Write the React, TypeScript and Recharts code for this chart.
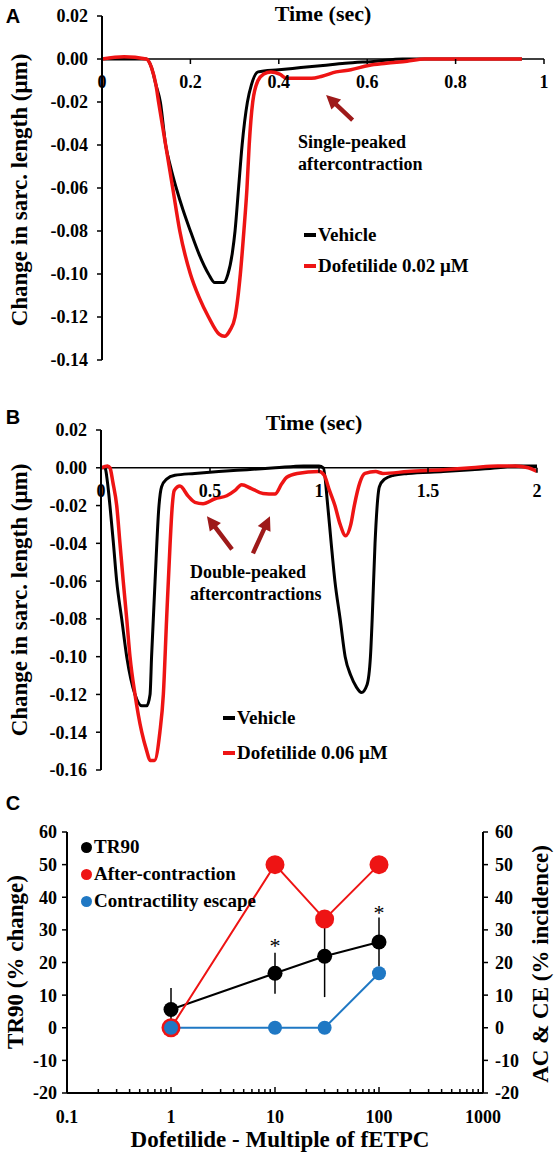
import React from 'react';
import {
  LineChart,
  Line,
  XAxis,
  YAxis,
  ReferenceLine,
  ReferenceDot,
  ErrorBar,
  Legend,
} from 'recharts';

const SERIF = "'Liberation Serif', 'Times New Roman', serif";
const SANS = "'Liberation Sans', Arial, sans-serif";
const RED = '#ee1414';
const ARROW_RED = '#9e1a1a';
const BLUE = '#1f78c4';

// ---- Panel A: single beat, 0.02 µM ----
const vehicleATime = [0, 0.05, 0.1, 0.112, 0.122, 0.132, 0.144, 0.155, 0.168, 0.183, 0.2, 0.22, 0.241, 0.255, 0.275, 0.285, 0.295, 0.301, 0.309, 0.317, 0.329, 0.338, 0.353, 0.4, 0.45, 0.5, 0.55, 0.62, 0.68, 0.95];
const vehicleAValue = [0, 0, 0, -0.004, -0.012, -0.02, -0.04, -0.05, -0.06, -0.07, -0.08, -0.091, -0.1, -0.104, -0.104, -0.1, -0.09, -0.08, -0.06, -0.04, -0.02, -0.012, -0.006, -0.005, -0.004, -0.003, -0.002, -0.001, 0, 0];
const dofATime = [0, 0.05, 0.1, 0.112, 0.122, 0.128, 0.144, 0.16, 0.176, 0.2, 0.22, 0.241, 0.265, 0.277, 0.29, 0.301, 0.313, 0.321, 0.328, 0.333, 0.341, 0.353, 0.366, 0.382, 0.402, 0.418, 0.474, 0.498, 0.53, 0.563, 0.603, 0.643, 0.69, 0.73, 0.8, 0.95];
const dofAValue = [0, 0.001, 0, -0.004, -0.012, -0.02, -0.04, -0.06, -0.08, -0.1, -0.111, -0.12, -0.128, -0.129, -0.126, -0.12, -0.1, -0.08, -0.06, -0.04, -0.02, -0.01, -0.007, -0.006, -0.007, -0.009, -0.009, -0.008, -0.006, -0.005, -0.003, -0.002, -0.001, 0, 0, 0];
const sarcTicksA = [0.02, 0, -0.02, -0.04, -0.06, -0.08, -0.1, -0.12, -0.14];
const timeTicksA = [0, 0.2, 0.4, 0.6, 0.8, 1];

// ---- Panel B: two beats, 0.06 µM ----
const vehicleBTime = [0, 0.018, 0.03, 0.041, 0.057, 0.072, 0.095, 0.118, 0.156, 0.187, 0.21, 0.225, 0.232, 0.248, 0.266, 0.278, 0.301, 0.339, 0.43, 0.54, 0.67, 0.8, 0.93, 1.0, 1.02, 1.04, 1.056, 1.073, 1.097, 1.12, 1.146, 1.171, 1.195, 1.22, 1.236, 1.244, 1.257, 1.277, 1.301, 1.342, 1.407, 1.57, 1.7, 1.82, 1.9, 2.0];
const vehicleBValue = [0, 0, -0.008, -0.02, -0.04, -0.06, -0.08, -0.1, -0.12, -0.126, -0.126, -0.12, -0.1, -0.06, -0.02, -0.01, -0.006, -0.004, -0.003, -0.002, -0.001, 0, 0.001, 0.001, 0, -0.02, -0.04, -0.06, -0.08, -0.1, -0.11, -0.116, -0.119, -0.115, -0.1, -0.08, -0.04, -0.01, -0.006, -0.004, -0.003, -0.002, -0.001, 0, 0.001, 0.001];
const dofBTime = [0, 0.03, 0.041, 0.055, 0.072, 0.087, 0.102, 0.118, 0.133, 0.156, 0.187, 0.21, 0.225, 0.245, 0.27, 0.286, 0.301, 0.317, 0.327, 0.336, 0.362, 0.4, 0.431, 0.468, 0.523, 0.577, 0.615, 0.645, 0.69, 0.743, 0.798, 0.829, 0.852, 0.9, 1.0, 1.024, 1.048, 1.073, 1.097, 1.122, 1.146, 1.162, 1.187, 1.211, 1.26, 1.293, 1.407, 1.57, 1.7, 1.82, 1.9, 1.96, 2.0];
const dofBValue = [0, 0.001, 0, -0.008, -0.02, -0.04, -0.06, -0.08, -0.1, -0.12, -0.14, -0.15, -0.155, -0.155, -0.14, -0.12, -0.08, -0.04, -0.02, -0.012, -0.0097, -0.015, -0.0183, -0.019, -0.0164, -0.0148, -0.012, -0.009, -0.011, -0.0136, -0.0139, -0.0085, -0.005, -0.003, -0.002, -0.004, -0.012, -0.02, -0.03, -0.036, -0.03, -0.02, -0.008, -0.003, -0.002, -0.003, -0.002, -0.001, 0, 0.001, 0.001, 0, -0.002];
const sarcTicksB = [0.02, 0, -0.02, -0.04, -0.06, -0.08, -0.1, -0.12, -0.14, -0.16];
const timeTicksB = [0, 0.5, 1, 1.5, 2];

// ---- Panel C: dose response ----
const doses = [1, 10, 30, 100];
const tr90 = [5.6, 16.7, 21.9, 26.3];
const tr90Err = [6.6, 6.3, 12.5, 7.5];
const afterContraction = [0, 50, 33.3, 50];
const contractilityEscape = [0, 0, 0, 16.7];
const starDose = [10, 100];
const starLevel = [26.2, 36.3];
const doseTicks = [0.1, 0.2, 0.3, 0.4, 0.5, 0.6, 0.7, 0.8, 0.9, 1, 2, 3, 4, 5, 6, 7, 8, 9, 10, 20, 30, 40, 50, 60, 70, 80, 90, 100, 200, 300, 400, 500, 600, 700, 800, 900, 1000];
const doseLabels = [0.1, 1, 10, 100, 1000];
const pctTicks = [-20, -10, 0, 10, 20, 30, 40, 50, 60];
const seriesOrderC = ['TR90', 'After-contraction', 'Contractility escape'];

// annotation arrows, [tail, tip] in data units
const arrowsA = [[[0.567, -0.0284], [0.507, -0.0167]]];
const arrowsB = [
  [[0.601, -0.0432], [0.486, -0.0256]],
  [[0.697, -0.0453], [0.775, -0.0256]],
];

const toPoints = (ts: number[], vs: number[]) => ts.map((t, i) => ({ t, v: vs[i] }));
const doseRows = doses.map((dose, i) => ({
  dose,
  tr90: tr90[i],
  tr90Err: tr90Err[i],
  ac: afterContraction[i],
  ce: contractilityEscape[i],
}));

const tickFont = { fontFamily: SERIF, fontWeight: 'bold' as const, fontSize: 18, fill: '#000' };

const inOrder = (payload: any[], order: string[]) =>
  [...(payload || [])].sort((a, b) => order.indexOf(a.value) - order.indexOf(b.value));

const xTickShape = (label: string) => (p: any) => (
  <g>
    <line x1={p.cx} y1={p.cy} x2={p.cx} y2={p.cy + 5} stroke="#000" strokeWidth={1.5} />
    <text x={p.cx} y={p.cy + 29} textAnchor="middle" {...tickFont}>
      {label}
    </text>
  </g>
);

const arrowShape = (p: any) => {
  const { x1, y1, x2, y2 } = p;
  const len = Math.hypot(x2 - x1, y2 - y1) || 1;
  const ux = (x2 - x1) / len;
  const uy = (y2 - y1) / len;
  const nx = -uy;
  const ny = ux;
  const bx = x2 - ux * 14;
  const by = y2 - uy * 14;
  const pts = [
    [x1 + nx * 2.2, y1 + ny * 2.2],
    [bx + nx * 2.2, by + ny * 2.2],
    [bx + nx * 7, by + ny * 7],
    [x2, y2],
    [bx - nx * 7, by - ny * 7],
    [bx - nx * 2.2, by - ny * 2.2],
    [x1 - nx * 2.2, y1 - ny * 2.2],
  ];
  return <polygon points={pts.map((q) => q.join(',')).join(' ')} fill={ARROW_RED} />;
};

const DoseTick = (p: any) => {
  const v = p.payload.value;
  const major = doseLabels.includes(v);
  return (
    <g>
      <line x1={p.x} y1={p.y} x2={p.x} y2={p.y - (major ? 6 : 4)} stroke="#000" strokeWidth={1.5} />
      {major && (
        <text x={p.x} y={p.y + 30} textAnchor="middle" {...tickFont}>
          {v}
        </text>
      )}
    </g>
  );
};

const starShape = (p: any) => (
  <text x={p.cx} y={p.cy + 11} textAnchor="middle" fontFamily={SERIF} fontSize={22} fill="#000">
    *
  </text>
);

const traceLegend = (rowH: number, order: string[]) => (props: any) => (
  <div style={{ fontFamily: SERIF, fontWeight: 'bold', fontSize: 19, color: '#000' }}>
    {inOrder(props.payload, order).map((e: any) => (
      <div key={e.value} style={{ display: 'flex', alignItems: 'center', height: rowH, whiteSpace: 'nowrap' }}>
        <span style={{ display: 'inline-block', width: 12, height: 4, background: e.color, marginRight: 2 }} />
        {e.value}
      </div>
    ))}
  </div>
);

const dotLegend = (props: any) => (
  <div style={{ fontFamily: SERIF, fontWeight: 'bold', fontSize: 19, color: '#000' }}>
    {inOrder(props.payload, seriesOrderC).map((e: any) => (
      <div key={e.value} style={{ display: 'flex', alignItems: 'center', height: 27, whiteSpace: 'nowrap' }}>
        <span style={{ display: 'inline-block', width: 11, height: 11, borderRadius: '50%', background: e.color, marginRight: 2 }} />
        {e.value}
      </div>
    ))}
  </div>
);

const Caption = ({ x, y, size = 18, rotate = false, family = SERIF, children }: any) => (
  <div
    style={{
      position: 'absolute',
      left: x,
      top: y,
      transform: `translate(-50%,-50%)${rotate ? ' rotate(-90deg)' : ''}`,
      fontFamily: family,
      fontWeight: 'bold',
      fontSize: size,
      lineHeight: 1.2,
      whiteSpace: 'nowrap',
      color: '#000',
    }}
  >
    {children}
  </div>
);

const TracePanel = ({ top, height, margin, yWidth, domainX, ticksY, ticksX, vehicle, dof, dofName, arrows, legendTop, legendLeft, rowH }: any) => (
  <div style={{ position: 'absolute', left: 0, top }}>
    <LineChart width={556} height={height} margin={margin}>
      <XAxis dataKey="t" type="number" domain={domainX} hide allowDataOverflow />
      <YAxis
        type="number"
        domain={[ticksY[ticksY.length - 1], ticksY[0]]}
        ticks={ticksY}
        interval={0}
        width={yWidth}
        tickFormatter={(v: number) => v.toFixed(2)}
        tick={tickFont}
        tickSize={5}
        tickMargin={9}
        axisLine={{ stroke: '#000', strokeWidth: 2 }}
        tickLine={{ stroke: '#000', strokeWidth: 1.5 }}
        allowDataOverflow
      />
      <ReferenceLine y={0} stroke="#000" strokeWidth={1.5} />
      {ticksX.map((t: number) => (
        <ReferenceDot key={t} x={t} y={0} r={3} shape={xTickShape(String(t))} />
      ))}
      <Legend
        layout="vertical"
        align="center"
        verticalAlign="middle"
        content={traceLegend(rowH, ['Vehicle', dofName])}
        wrapperStyle={{ left: legendLeft, top: legendTop, width: 260 }}
      />
      <Line data={vehicle} dataKey="v" name="Vehicle" type="monotone" stroke="#000" strokeWidth={3} dot={false} isAnimationActive={false} />
      <Line data={dof} dataKey="v" name={dofName} type="monotone" stroke={RED} strokeWidth={3.5} dot={false} isAnimationActive={false} />
      {arrows.map((a: number[][], i: number) => (
        <ReferenceLine key={i} segment={[{ x: a[0][0], y: a[0][1] }, { x: a[1][0], y: a[1][1] }]} shape={arrowShape} />
      ))}
    </LineChart>
  </div>
);

export default function App() {
  return (
    <div style={{ position: 'absolute', left: 0, top: 0, width: 556, height: 1157, background: '#fff', overflow: 'hidden' }}>
      <TracePanel
        top={0}
        height={380}
        margin={{ top: 16, right: 12, bottom: 20, left: 0 }}
        yWidth={102}
        domainX={[0, 1]}
        ticksY={sarcTicksA}
        ticksX={timeTicksA}
        vehicle={toPoints(vehicleATime, vehicleAValue)}
        dof={toPoints(dofATime, dofAValue)}
        dofName="Dofetilide 0.02 μM"
        arrows={arrowsA}
        legendLeft={304}
        legendTop={219.5}
        rowH={31}
      />
      <TracePanel
        top={380}
        height={400}
        margin={{ top: 50, right: 19, bottom: 10, left: 0 }}
        yWidth={101}
        domainX={[0, 2]}
        ticksY={sarcTicksB}
        ticksX={timeTicksB}
        vehicle={toPoints(vehicleBTime, vehicleBValue)}
        dof={toPoints(dofBTime, dofBValue)}
        dofName="Dofetilide 0.06 μM"
        arrows={arrowsB}
        legendLeft={223}
        legendTop={320.5}
        rowH={35}
      />

      <div style={{ position: 'absolute', left: 0, top: 770 }}>
        <LineChart width={556} height={387} data={doseRows} margin={{ top: 62, right: 0, bottom: 0, left: 0 }}>
          <XAxis
            dataKey="dose"
            type="number"
            scale="log"
            domain={[0.1, 1000]}
            ticks={doseTicks}
            interval={0}
            tick={<DoseTick />}
            tickLine={false}
            tickSize={0}
            tickMargin={0}
            axisLine={{ stroke: '#000', strokeWidth: 2 }}
            height={64}
            allowDataOverflow
          />
          <YAxis
            yAxisId="left"
            domain={[-20, 60]}
            ticks={pctTicks}
            interval={0}
            width={67}
            tick={tickFont}
            tickSize={5}
            tickMargin={5}
            axisLine={{ stroke: '#000', strokeWidth: 2 }}
            tickLine={{ stroke: '#000', strokeWidth: 1.5 }}
          />
          <YAxis
            yAxisId="right"
            orientation="right"
            domain={[-20, 60]}
            ticks={pctTicks}
            interval={0}
            width={73}
            tick={tickFont}
            tickSize={5}
            tickMargin={7}
            axisLine={{ stroke: '#000', strokeWidth: 2 }}
            tickLine={{ stroke: '#000', strokeWidth: 1.5 }}
          />
          <Legend
            layout="vertical"
            align="center"
            verticalAlign="middle"
            content={dotLegend}
            wrapperStyle={{ left: 81, top: 63.5, width: 260 }}
          />
          <Line
            yAxisId="left"
            dataKey="tr90"
            name="TR90"
            stroke="#000"
            strokeWidth={2}
            dot={{ r: 7.5, fill: '#000', stroke: '#000', strokeWidth: 0 }}
            isAnimationActive={false}
          >
            <ErrorBar dataKey="tr90Err" width={0} stroke="#000" strokeWidth={1.5} direction="y" />
          </Line>
          <Line
            yAxisId="right"
            dataKey="ac"
            name="After-contraction"
            stroke={RED}
            strokeWidth={2}
            dot={{ r: 9.5, fill: RED, stroke: RED, strokeWidth: 0 }}
            isAnimationActive={false}
          />
          <Line
            yAxisId="right"
            dataKey="ce"
            name="Contractility escape"
            stroke={BLUE}
            strokeWidth={2}
            dot={{ r: 7, fill: BLUE, stroke: BLUE, strokeWidth: 0 }}
            isAnimationActive={false}
          />
          {starDose.map((d, i) => (
            <ReferenceDot key={d} yAxisId="left" x={d} y={starLevel[i]} r={3} shape={starShape} />
          ))}
        </LineChart>
      </div>

      {/* panel letters, titles, axis names, annotations */}
      <Caption x={13} y={16} size={20} family={SANS}>A</Caption>
      <Caption x={13} y={417} size={20} family={SANS}>B</Caption>
      <Caption x={13} y={803} size={20} family={SANS}>C</Caption>

      <Caption x={323} y={14} size={22}>Time (sec)</Caption>
      <Caption x={314} y={423} size={22}>Time (sec)</Caption>

      <Caption x={20} y={190} size={23} rotate>Change in sarc. length (μm)</Caption>
      <Caption x={20} y={600} size={23} rotate>Change in sarc. length (μm)</Caption>

      <div style={{ position: 'absolute', left: 298, top: 131, fontFamily: SERIF, fontWeight: 'bold', fontSize: 18, lineHeight: '22px', whiteSpace: 'nowrap' }}>
        Single-peaked
        <br />
        aftercontraction
      </div>
      <div style={{ position: 'absolute', left: 190, top: 561, fontFamily: SERIF, fontWeight: 'bold', fontSize: 18, lineHeight: '22px', whiteSpace: 'nowrap' }}>
        Double-peaked
        <br />
        aftercontractions
      </div>

      <Caption x={16} y={962} size={23} rotate>TR90 (% change)</Caption>
      <Caption x={541} y={964} size={23} rotate>AC &amp; CE (% incidence)</Caption>
      <Caption x={280} y={1140} size={23}>Dofetilide - Multiple of fETPC</Caption>
    </div>
  );
}
